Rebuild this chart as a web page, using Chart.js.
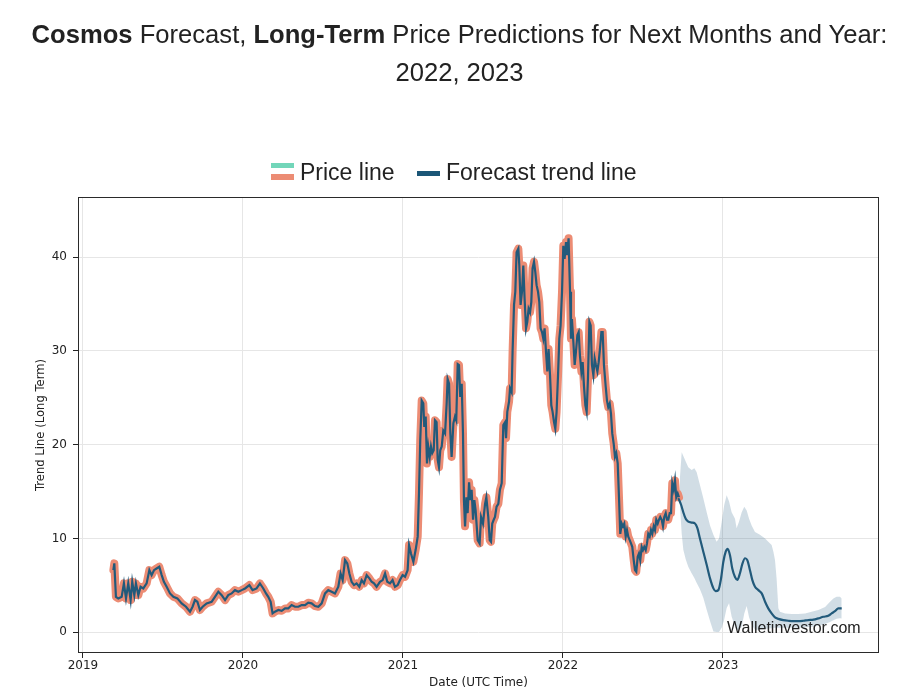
<!DOCTYPE html>
<html>
<head>
<meta charset="utf-8">
<script src="https://cdn.jsdelivr.net/npm/chart.js@4.4.1/dist/chart.umd.min.js"></script>
<style>
  html, body { margin: 0; padding: 0; background: #fff; }
  #page { position: relative; width: 919px; height: 697px; overflow: hidden; font-family: "Liberation Sans", Arial, sans-serif; }
  #title { position: absolute; left: 0; top: 15px; width: 919px; text-align: center; font-size: 25.6px; line-height: 38px; color: #222; }
  #title b { font-weight: bold; }
  #chartWrap { position: absolute; left: 0; top: 0; width: 919px; height: 697px; }
  .lg { position: absolute; font-size: 23px; color: #222; line-height: 26px; white-space: nowrap; }
  .sw { position: absolute; width: 23px; }
  #wm { position: absolute; left: 727px; top: 618px; font-size: 16px; color: #222; line-height: 20px; white-space: nowrap; }
</style>
</head>
<body>
<div id="page">
  <div id="chartWrap"><canvas id="c" width="919" height="697"></canvas></div>
  <div id="title"><b>Cosmos</b> Forecast, <b>Long-Term</b> Price Predictions for Next Months and Year:<br>2022, 2023</div>
  <div class="sw" style="left:271px;top:163px;height:5px;background:#72d6b9;"></div>
  <div class="sw" style="left:271px;top:174px;height:6px;background:#ec8c74;"></div>
  <div class="lg" style="left:300px;top:159px;">Price line</div>
  <div class="sw" style="left:417px;top:171px;height:5px;background:#1b5677;"></div>
  <div class="lg" style="left:446px;top:159px;">Forecast trend line</div>
  <div id="wm">Walletinvestor.com</div>
</div>
<script>
// ---- Data (x = fractional calendar year) ----
const priceX = [
2019.190,2019.196,2019.206,2019.221,2019.242,2019.256,2019.269,2019.283,2019.298,2019.308,
2019.321,2019.331,2019.346,2019.360,2019.377,2019.398,2019.415,2019.429,2019.444,2019.460,
2019.477,2019.492,2019.506,2019.523,2019.544,2019.565,2019.590,2019.617,2019.644,2019.669,
2019.685,2019.700,2019.715,2019.731,2019.748,2019.773,2019.804,2019.825,2019.846,2019.867,
2019.888,2019.908,2019.929,2019.950,2019.971,2019.992,2020.013,2020.040,2020.060,2020.085,
2020.106,2020.127,2020.144,2020.158,2020.173,2020.185,2020.200,2020.221,2020.242,2020.263,
2020.283,2020.304,2020.325,2020.346,2020.367,2020.388,2020.408,2020.429,2020.450,2020.471,
2020.492,2020.513,2020.533,2020.554,2020.575,2020.596,2020.610,2020.623,2020.638,2020.652,
2020.665,2020.679,2020.694,2020.710,2020.727,2020.742,2020.756,2020.773,2020.790,2020.804,
2020.819,2020.835,2020.856,2020.873,2020.888,2020.902,2020.919,2020.935,2020.950,2020.967,
2020.981,2020.998,2021.013,2021.029,2021.038,2021.050,2021.065,2021.079,2021.092,2021.100,
2021.108,2021.117,2021.127,2021.133,2021.142,2021.150,2021.158,2021.167,2021.175,2021.183,
2021.192,2021.200,2021.210,2021.217,2021.225,2021.233,2021.242,2021.252,2021.263,2021.273,
2021.279,2021.288,2021.296,2021.304,2021.315,2021.325,2021.333,2021.342,2021.350,2021.358,
2021.367,2021.375,2021.381,2021.388,2021.396,2021.404,2021.413,2021.421,2021.429,2021.438,
2021.446,2021.454,2021.467,2021.479,2021.488,2021.500,2021.513,2021.521,2021.533,2021.542,
2021.550,2021.558,2021.567,2021.575,2021.585,2021.596,2021.606,2021.617,2021.627,2021.638,
2021.644,2021.652,2021.663,2021.669,2021.679,2021.685,2021.694,2021.702,2021.710,2021.721,
2021.727,2021.735,2021.744,2021.752,2021.760,2021.769,2021.777,2021.785,2021.794,2021.802,
2021.810,2021.819,2021.827,2021.835,2021.844,2021.852,2021.860,2021.869,2021.877,2021.885,
2021.894,2021.902,2021.910,2021.919,2021.927,2021.935,2021.944,2021.952,2021.960,2021.969,
2021.977,2021.985,2021.994,2022.002,2022.010,2022.019,2022.027,2022.035,2022.044,2022.050,
2022.056,2022.065,2022.073,2022.081,2022.090,2022.098,2022.106,2022.115,2022.123,2022.131,
2022.140,2022.148,2022.156,2022.165,2022.173,2022.181,2022.190,2022.198,2022.206,2022.215,
2022.223,2022.231,2022.240,2022.248,2022.256,2022.267,2022.275,2022.283,2022.292,2022.300,
2022.308,2022.317,2022.325,2022.333,2022.342,2022.350,2022.358,2022.367,2022.375,2022.383,
2022.392,2022.400,2022.408,2022.417,2022.425,2022.433,2022.442,2022.450,2022.458,2022.467,
2022.475,2022.483,2022.492,2022.500,2022.508,2022.517,2022.525,2022.533,2022.542,2022.550,
2022.558,2022.567,2022.575,2022.583,2022.592,2022.600,2022.608,2022.617,2022.625,2022.633,
2022.642,2022.650,2022.658,2022.667,2022.675,2022.683,2022.692,2022.700,2022.708,2022.717,
2022.725
];
const priceY = [
6.63,7.35,3.79,3.62,3.79,5.22,3.62,5.22,3.44,5.39,
3.97,5.22,3.97,4.86,4.68,5.22,6.63,6.10,6.63,6.81,
6.99,6.10,5.39,4.86,4.15,3.79,3.62,3.09,2.73,2.20,
2.73,3.44,3.26,2.38,2.73,3.09,3.26,3.79,4.33,3.97,
3.44,3.97,4.15,4.50,4.33,4.50,4.68,5.04,4.50,4.68,
5.22,4.68,4.15,3.79,3.26,2.02,2.20,2.38,2.30,2.55,
2.55,2.91,2.73,2.73,2.91,2.91,3.16,3.09,2.80,2.73,
3.09,4.15,4.50,4.33,4.15,4.86,6.28,5.57,7.70,7.35,
6.28,5.39,5.04,5.22,4.86,5.57,5.22,6.10,5.75,5.39,
5.22,4.86,5.39,5.57,6.28,5.39,5.22,5.57,4.86,5.04,
5.57,6.10,5.93,6.63,9.30,8.41,7.52,8.77,10.2,14.8,
20.5,24.7,24.4,21.9,23.0,18.0,19.8,18.7,19.8,19.1,
19.4,22.6,22.4,18.4,17.6,19.4,19.8,21.5,21.2,24.4,
27.0,26.5,21.2,18.7,22.3,23.0,22.6,28.6,28.5,25.1,
26.5,21.2,14.1,11.3,14.4,12.7,16.0,14.1,15.2,12.0,
14.1,13.0,9.83,9.48,12.3,11.6,13.7,14.4,12.3,9.83,
9.65,11.6,12.0,12.3,13.4,13.7,15.2,15.9,22.1,22.4,
20.7,23.5,24.6,26.0,25.6,29.9,34.9,36.3,40.5,40.9,
39.1,34.9,36.3,39.1,35.6,32.4,33.1,34.5,34.1,35.2,
38.8,39.5,38.4,37.0,36.3,35.2,32.4,32.0,31.3,32.4,
29.9,27.8,30.2,27.4,24.2,23.5,22.4,21.7,23.5,27.4,
31.3,32.7,36.3,41.2,39.8,41.6,40.2,42.0,36.3,31.3,
33.4,30.9,28.5,29.9,31.7,32.0,29.5,27.8,28.8,26.3,
24.2,23.5,27.0,33.1,32.7,28.5,27.4,29.2,28.5,27.8,
28.8,30.2,32.0,32.0,28.5,26.2,24.7,24.0,24.4,23.3,
21.2,20.1,18.7,19.1,18.0,14.4,10.5,11.6,11.3,11.6,
10.2,10.9,10.2,9.83,9.48,9.12,7.70,6.63,6.45,8.05,
8.41,7.70,9.12,8.77,9.12,8.77,9.48,10.5,10.2,10.9,
10.5,11.3,10.9,12.0,11.6,12.0,12.3,12.0,11.3,12.3,
12.7,12.0,12.0,12.7,12.7,15.9,15.2,16.2,14.4,14.8,
14.4
];
const forecastX = [
2022.721,2022.738,2022.752,2022.767,2022.783,2022.804,2022.825,2022.840,2022.856,2022.877,
2022.898,2022.919,2022.940,2022.954,2022.971,2022.988,2023.002,2023.017,2023.029,2023.044,
2023.058,2023.075,2023.090,2023.106,2023.121,2023.138,2023.152,2023.169,2023.183,2023.200,
2023.221,2023.242,2023.263,2023.283,2023.304,2023.325,2023.346,2023.377,2023.408,2023.440,
2023.471,2023.502,2023.533,2023.565,2023.596,2023.627,2023.658,2023.679,2023.700,2023.721,
2023.742
];
const forecastY = [
14.3,13.6,12.8,12.1,11.8,11.7,11.6,11.1,10.0,8.6,
7.2,5.75,4.69,4.4,4.5,5.75,7.5,8.6,8.9,8.2,
6.8,5.9,5.6,6.3,7.3,7.9,7.7,6.6,5.6,4.86,
4.5,4.15,3.26,2.56,2.02,1.6,1.44,1.31,1.24,1.2,
1.2,1.24,1.31,1.35,1.49,1.66,1.76,2.02,2.26,2.56,
2.56
];
const bandX = [
2022.731,2022.742,2022.752,2022.767,2022.783,2022.804,2022.821,2022.835,2022.856,2022.877,
2022.898,2022.919,2022.940,2022.960,2022.975,2022.992,2023.008,2023.023,2023.038,2023.054,
2023.075,2023.085,2023.100,2023.117,2023.133,2023.148,2023.163,2023.179,2023.200,2023.231,
2023.263,2023.283,2023.304,2023.315,2023.325,2023.335,2023.346,2023.356,2023.388,2023.429,
2023.471,2023.513,2023.554,2023.596,2023.638,2023.669,2023.690,2023.710,2023.731,2023.742
];
const bandUpper = [
16.5,19.2,18.8,18.2,17.6,17.3,17.5,17.1,15.7,14.3,
12.8,11.4,10.4,9.65,10.0,11.8,13.6,14.6,13.95,12.8,
12.1,11.1,11.8,12.8,13.4,13.0,12.1,11.4,10.7,10.4,
10.0,9.65,9.3,8.6,7.7,5.75,2.56,2.2,2.02,1.96,
1.96,2.02,2.2,2.37,2.7,3.26,3.6,3.8,3.8,3.6
];
const bandLower = [
13.5,10.5,8.8,7.8,7.0,6.3,5.8,5.3,4.6,3.7,
2.4,1.2,0.1,0.05,0.05,0.5,1.4,2.6,3.1,1.7,
0.6,0.25,0.3,0.6,2.0,2.8,1.6,0.8,0.25,0.3,
0.35,0.4,0.45,0.5,0.5,0.5,0.5,0.5,0.5,0.5,
0.5,0.55,0.6,0.7,0.9,1.1,1.3,1.45,1.5,1.49
];
const yearTicks = [2019, 2020, 2021, 2022, 2023];
const valueTicks = [0, 10, 20, 30, 40];

const pts = (xs, ys) => xs.map((x, i) => ({ x: x, y: ys[i] }));

const borderPlugin = {
  id: 'frame',
  afterDatasetsDraw(chart) {
    const a = chart.chartArea, ctx = chart.ctx;
    ctx.save();
    ctx.strokeStyle = '#2a2a2a';
    ctx.lineWidth = 1;
    ctx.strokeRect(Math.round(a.left) + 0.5, Math.round(a.top) + 0.5, Math.round(a.right - a.left) - 1, Math.round(a.bottom - a.top) - 1);
    ctx.restore();
  }
};

new Chart(document.getElementById('c'), {
  type: 'line',
  data: {
    datasets: [
      { label: 'upper', order: 5, data: pts(bandX, bandUpper), borderWidth: 0, pointRadius: 0, fill: '+1', backgroundColor: 'rgba(45,100,135,0.22)', borderColor: 'rgba(0,0,0,0)', tension: 0 },
      { label: 'lower', order: 6, data: pts(bandX, bandLower), borderWidth: 0, pointRadius: 0, fill: false, borderColor: 'rgba(0,0,0,0)', tension: 0 },
      { label: 'Price line', order: 3, data: pts(priceX, priceY), borderColor: '#ec8c74', borderWidth: 8, pointRadius: 0, fill: false, borderJoinStyle: 'round', borderCapStyle: 'round', tension: 0 },
      { label: 'Price line core', order: 2, data: pts(priceX, priceY), borderColor: '#225a7b', borderWidth: 2.2, pointRadius: 0, fill: false, tension: 0 },
      { label: 'Forecast trend line', order: 1, data: pts(forecastX, forecastY), borderColor: '#225a7b', borderWidth: 2.2, pointRadius: 0, fill: false, tension: 0.3, cubicInterpolationMode: 'monotone' }
    ]
  },
  options: {
    responsive: false,
    animation: false,
    devicePixelRatio: 1,
    layout: { padding: { top: 197, left: 0, right: 40, bottom: 0 } },
    plugins: { legend: { display: false }, title: { display: false }, tooltip: { enabled: false } },
    scales: {
      x: {
        type: 'linear',
        min: 2018.969,
        max: 2023.975,
        afterFit(s) { s.height = 44; },
        afterBuildTicks(s) { s.ticks = yearTicks.map(v => ({ value: v })); },
        ticks: { callback: v => String(v), color: '#222', font: { family: 'DejaVu Sans', size: 12 }, padding: 1, maxRotation: 0 },
        grid: { color: '#e6e6e6', lineWidth: 1, tickColor: '#222', tickLength: 5, drawTicks: true },
        border: { display: false },
        title: { display: true, text: 'Date (UTC Time)', color: '#222', font: { family: 'DejaVu Sans', size: 12 }, padding: { top: 0, bottom: 7 } }
      },
      y: {
        type: 'linear',
        min: -2.2,
        max: 46.4,
        afterFit(s) { s.width = 78; },
        afterBuildTicks(s) { s.ticks = valueTicks.map(v => ({ value: v })); },
        ticks: { callback: v => String(v), color: '#222', font: { family: 'DejaVu Sans', size: 12 }, padding: 6 },
        grid: { color: '#e6e6e6', lineWidth: 1, tickColor: '#222', tickLength: 5, drawTicks: true },
        border: { display: false },
        title: { display: true, text: 'Trend Line (Long Term)', color: '#222', font: { family: 'DejaVu Sans', size: 11.6 }, padding: { top: 34, bottom: 0 } }
      }
    }
  },
  plugins: [borderPlugin]
});
</script>
</body>
</html>
